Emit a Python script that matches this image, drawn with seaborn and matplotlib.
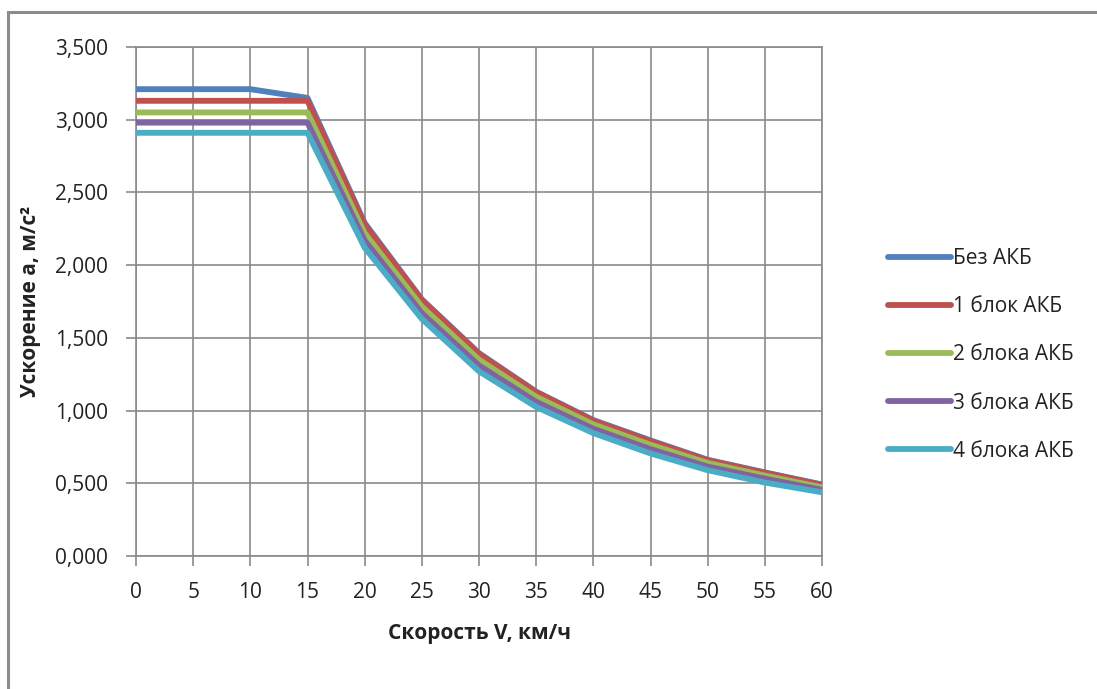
import matplotlib
matplotlib.use("Agg")
import matplotlib.pyplot as plt
import matplotlib.ticker as mticker
from matplotlib.patches import Rectangle
import seaborn as sns
import pandas as pd

speed = [0, 5, 10, 15, 20, 25, 30, 35, 40, 45, 50, 55, 60]
bez_akb = [3.21, 3.21, 3.21, 3.15, 2.29, 1.765, 1.395, 1.13, 0.935, 0.795, 0.662, 0.575, 0.492]
blok1 = [3.13, 3.13, 3.13, 3.13, 2.28, 1.76, 1.39, 1.127, 0.93, 0.79, 0.658, 0.572, 0.488]
blok2 = [3.05, 3.05, 3.05, 3.05, 2.22, 1.715, 1.35, 1.095, 0.905, 0.765, 0.64, 0.553, 0.472]
blok3 = [2.98, 2.98, 2.98, 2.98, 2.17, 1.67, 1.31, 1.06, 0.875, 0.735, 0.615, 0.532, 0.455]
blok4 = [2.91, 2.91, 2.91, 2.91, 2.12, 1.63, 1.27, 1.025, 0.845, 0.705, 0.59, 0.505, 0.438]
series_names = ["Без АКБ", "1 блок АКБ", "2 блока АКБ", "3 блока АКБ", "4 блока АКБ"]
colors = ["#4F81BD", "#C0504D", "#9BBB59", "#8064A2", "#4BACC6"]
x_ticks = list(range(0, 61, 5))
y_ticks = [0.0, 0.5, 1.0, 1.5, 2.0, 2.5, 3.0, 3.5]

rows = []
for name, vals in zip(series_names, [bez_akb, blok1, blok2, blok3, blok4]):
    for v, a in zip(speed, vals):
        rows.append({"V": v, "a": a, "series": name})
df = pd.DataFrame(rows)

sns.set_style("white")
plt.rcParams["font.family"] = ["Open Sans", "DejaVu Sans"]

W, H = 1097, 689
FS = 15
fig = plt.figure(figsize=(W / 100, H / 100), dpi=100)
ax = fig.add_axes([136 / W, 1 - 556 / H, (822 - 136) / W, (556 - 47) / H])

sns.lineplot(data=df, x="V", y="a", hue="series", hue_order=series_names,
             palette=colors, linewidth=4.2, ax=ax, legend=True, zorder=3)

ax.set_xlim(0, 60)
ax.set_ylim(0, 3.5)
ax.set_xticks(x_ticks)
ax.set_yticks(y_ticks)
ax.yaxis.set_major_formatter(mticker.FuncFormatter(lambda v, p: f"{v:.3f}".replace(".", ",")))
ax.grid(True, color="#8a8a8a", linewidth=1.2, zorder=0)
ax.set_axisbelow(True)
for s in ax.spines.values():
    s.set_color("#8a8a8a")
    s.set_linewidth(1.2)
ax.tick_params(axis="both", direction="out", length=7, width=1.2, color="#8a8a8a",
               labelsize=FS, labelcolor="#222222")
ax.tick_params(axis="x", pad=12, bottom=True)
ax.tick_params(axis="y", pad=13, left=True)

ax.set_xlabel("Скорость V, км/ч", fontsize=FS, fontweight="bold", color="#222222", labelpad=14)
ax.set_ylabel("Ускорение а, м/с²", fontsize=FS, fontweight="bold", color="#222222", labelpad=10)

leg = ax.legend(loc="center left", bbox_to_anchor=((880 - 136) / (822 - 136), (556 - 355) / (556 - 47)),
                frameon=False, fontsize=FS, handlelength=3.0, handletextpad=0.1,
                labelspacing=1.3, borderaxespad=0)
for t in leg.get_texts():
    t.set_color("#222222")

fig.patches.append(Rectangle((8 / W, -0.05), 1.2, 1 - 12 / H + 0.05, transform=fig.transFigure,
                             fill=False, edgecolor="#8c8c8c", linewidth=2.2, zorder=0))

fig.savefig("out.png", dpi=100, facecolor="white")
